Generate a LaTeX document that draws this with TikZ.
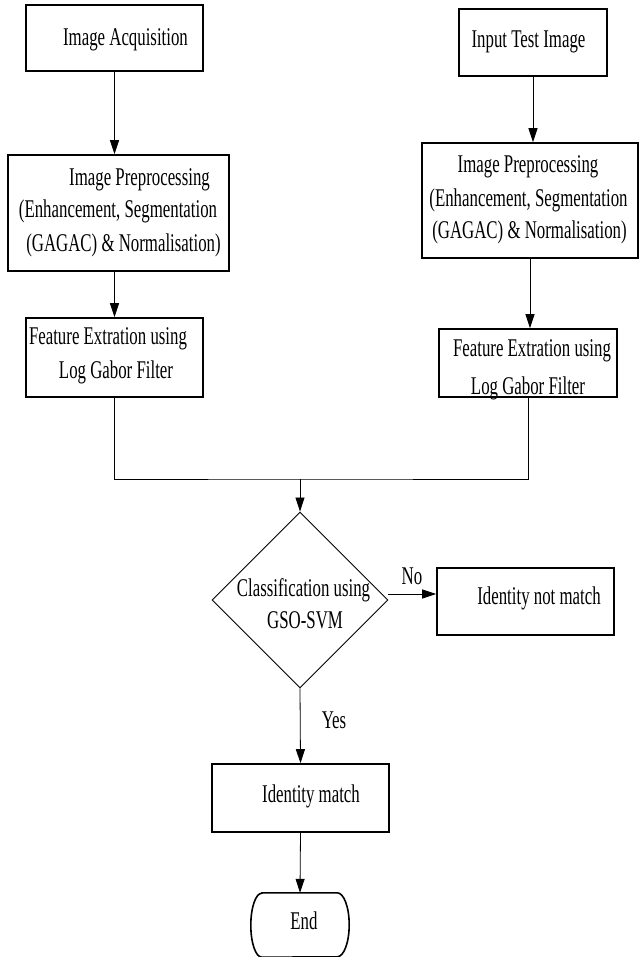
\documentclass[tikz,border=0pt]{standalone}
\usepackage{fontspec}
\setmainfont{Liberation Serif}[FakeStretch=0.66]
\usetikzlibrary{arrows.meta,shapes.geometric,calc}
\begin{document}
\begin{tikzpicture}[x=1pt,y=-1pt,
  box/.style={draw,line width=1.6pt,minimum width=#1,inner sep=0pt},
  txt/.style={inner sep=0pt,text height=17pt,text depth=5pt,font=\fontsize{25.5}{33}\selectfont},
  conn/.style={line width=0.8pt},
  arr/.style={conn,-{Triangle[length=14pt,width=9pt]}}]
\useasboundingbox (0,0) rectangle (639,957);
% boxes
\node[box=177pt,minimum height=66pt] (acq) at (114.5,38) {};
\node[box=221pt,minimum height=116pt] (pre1) at (118.5,213) {};
\node[box=177pt,minimum height=79pt] (fe1) at (114.5,357.5) {};
\node[box=148pt,minimum height=67pt] (inp) at (533,42.5) {};
\node[box=216pt,minimum height=115pt] (pre2) at (530,200.5) {};
\node[box=178pt,minimum height=68pt] (fe2) at (528,363) {};
\node[draw,shape=diamond,line width=0.9pt,minimum width=176pt,minimum height=176pt,inner sep=0pt] (dia) at (300,600) {};
\node[box=177pt,minimum height=67pt] (nomatch) at (525.5,601.5) {};
\node[box=177pt,minimum height=68pt] (match) at (300.5,798) {};
\node[minimum width=98pt,minimum height=64pt,inner sep=0pt] (end) at (300,925) {};
\draw[line width=1.6pt] ($(end.north west)+(11,0)$) -- ($(end.north east)+(-12,0)$)
  arc[start angle=90,end angle=-90,x radius=12pt,y radius=32pt]
  -- ($(end.south west)+(11,0)$)
  arc[start angle=270,end angle=90,x radius=11pt,y radius=32pt] -- cycle;
% texts
\node[txt] (t1) at (125.5,40) {Image Acquisition};
\node[txt] (t2) at (528.5,42) {Input Test Image};
\node[txt] (t3a) at (139.5,180) {Image Preprocessing};
\node[txt] (t3b) at (118,212) {(Enhancement, Segmentation};
\node[txt] (t3c) at (123.5,246) {(GAGAC) \& Normalisation)};
\node[txt] (t4a) at (528,167) {Image Preprocessing};
\node[txt] (t4b) at (528.5,201) {(Enhancement, Segmentation};
\node[txt] (t4c) at (529.5,233) {(GAGAC) \& Normalisation)};
\node[txt] (t5a) at (108,338) {Feature Extration using};
\node[txt] (t5b) at (116,372) {Log Gabor Filter};
\node[txt] (t6a) at (532,350) {Feature Extration using};
\node[txt] (t6b) at (528,388) {Log Gabor Filter};
\node[txt] (t7a) at (303.5,590) {Classification using};
\node[txt] (t7b) at (305,622) {GSO-SVM};
\node[txt] (t8) at (539,598) {Identity not match};
\node[txt] (t9) at (311,796) {Identity match};
\node[txt] (t10) at (304,923) {End};
\node[txt] (tno) at (412,578) {No};
\node[txt] (tyes) at (334,722) {Yes};
% connectors
\draw[arr] (acq.south) -- (acq.south |- pre1.north);
\draw[arr] (pre1.south -| fe1.north) -- (fe1.north);
\draw[arr] (inp.south) -- (inp.south |- pre2.north);
\draw[arr] (pre2.south) -- (pre2.south |- fe2.north);
\coordinate (mid) at (300,479);
\draw[conn] (fe1.south) |- (mid) -| (fe2.south);
\draw[arr] (mid) -- (dia.north);
\coordinate (noS) at ($(dia.east)+(0,-6)$);
\draw[arr] (noS) -- (noS -| nomatch.west);
\draw[arr] (dia.south) -- (match.north);
\draw[arr] (match.south) -- (end.north);
\end{tikzpicture}
\end{document}
